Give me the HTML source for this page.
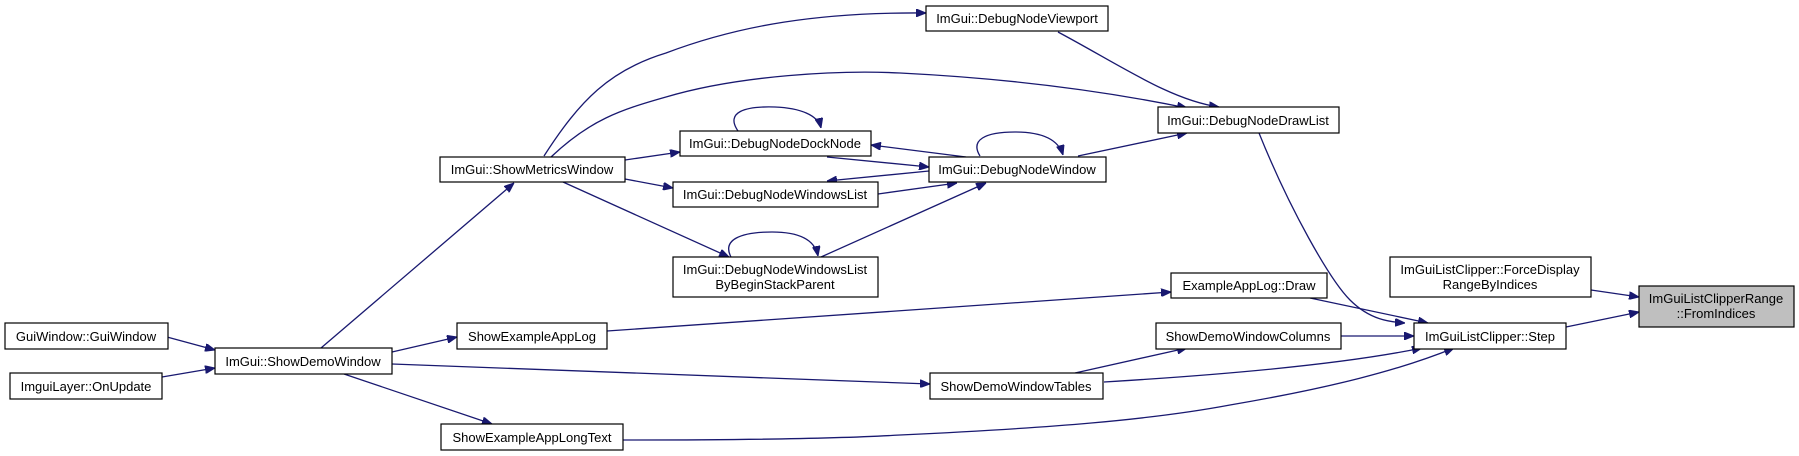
<!DOCTYPE html>
<html><head><meta charset="utf-8"><style>
html,body{margin:0;padding:0;background:#fff;}
svg{display:block;}
text{font-family:"Liberation Sans",Arial,sans-serif;font-size:13px;fill:#000;text-anchor:middle;}
.e{fill:none;stroke:#191970;stroke-width:1.3;}
.n{fill:#fff;stroke:#000;stroke-width:1.2;}
</style></head><body>
<svg width="1799" height="456" viewBox="0 0 1799 456" xmlns="http://www.w3.org/2000/svg">
<defs>
<marker id="a" viewBox="0 0 10 8" refX="10" refY="4" markerWidth="10" markerHeight="8" markerUnits="userSpaceOnUse" orient="auto">
<path d="M0,0 L10,4 L0,8 z" fill="#191970" stroke="#191970"/>
</marker>
</defs>
<g class="e" marker-end="url(#a)">
<path d="M167,337 L215,350"/>
<path d="M162,377 L215,368"/>
<path d="M321,348 L514,183"/>
<path d="M392,352 L457,337"/>
<path d="M392,364 C600,372 800,380 930,384"/>
<path d="M344,374 L492,424"/>
<path d="M544,156 C580,100 610,70 666,53 C740,25 820,12 926,13"/>
<path d="M551,157 C590,120 620,110 666,97 C740,75 840,70 900,73 C1000,78 1100,90 1187,108"/>
<path d="M625,160 L680,152"/>
<path d="M625,179 L673,188"/>
<path d="M563,182 L729,257"/>
<path d="M738,131 C725,112 745,106 775,107 C800,108 818,115 821,128"/>
<path d="M966,157 L871,145"/>
<path d="M827,157 L929,167"/>
<path d="M929,171 L827,181"/>
<path d="M878,194 L957,183"/>
<path d="M821,257 L986,183"/>
<path d="M731,257 C722,240 740,232 772,232 C800,232 815,240 818,256"/>
<path d="M980,156 C970,140 985,132 1015,132 C1040,132 1058,138 1063,155"/>
<path d="M1078,156 L1187,133"/>
<path d="M1058,32 C1120,65 1170,100 1219,107"/>
<path d="M1259,133 C1290,210 1330,280 1350,300 C1370,320 1390,322 1405,323"/>
<path d="M1310,298 L1428,323"/>
<path d="M607,331 L1171,292"/>
<path d="M1341,336 L1414,336"/>
<path d="M1104,382 C1220,375 1340,365 1422,348"/>
<path d="M1075,373 L1187,348"/>
<path d="M623,440 C750,440 850,438 900,435 C1050,428 1150,420 1230,405 C1330,388 1400,370 1454,348"/>
<path d="M1591,290 L1639,297"/>
<path d="M1566,327 L1639,312"/>
</g>
<g>
<rect class="n" x="5" y="323" width="163" height="26"/><text x="86" y="341">GuiWindow::GuiWindow</text>
<rect class="n" x="10" y="373" width="152" height="26"/><text x="86" y="391">ImguiLayer::OnUpdate</text>
<rect class="n" x="215" y="348" width="177" height="26"/><text x="303" y="366">ImGui::ShowDemoWindow</text>
<rect class="n" x="440" y="157" width="185" height="25"/><text x="532" y="174">ImGui::ShowMetricsWindow</text>
<rect class="n" x="680" y="131" width="191" height="25"/><text x="775" y="148">ImGui::DebugNodeDockNode</text>
<rect class="n" x="673" y="182" width="205" height="25"/><text x="775" y="199">ImGui::DebugNodeWindowsList</text>
<rect class="n" x="673" y="257" width="205" height="40"/><text x="775" y="274">ImGui::DebugNodeWindowsList</text><text x="775" y="289">ByBeginStackParent</text>
<rect class="n" x="457" y="323" width="150" height="26"/><text x="532" y="341">ShowExampleAppLog</text>
<rect class="n" x="441" y="424" width="182" height="26"/><text x="532" y="442">ShowExampleAppLongText</text>
<rect class="n" x="926" y="6" width="182" height="25"/><text x="1017" y="23">ImGui::DebugNodeViewport</text>
<rect class="n" x="1158" y="107" width="181" height="26"/><text x="1248" y="125">ImGui::DebugNodeDrawList</text>
<rect class="n" x="929" y="157" width="177" height="25"/><text x="1017" y="174">ImGui::DebugNodeWindow</text>
<rect class="n" x="1171" y="273" width="156" height="25"/><text x="1249" y="290">ExampleAppLog::Draw</text>
<rect class="n" x="1156" y="323" width="185" height="26"/><text x="1248" y="341">ShowDemoWindowColumns</text>
<rect class="n" x="930" y="373" width="173" height="26"/><text x="1016" y="391">ShowDemoWindowTables</text>
<rect class="n" x="1390" y="257" width="201" height="40"/><text x="1490" y="274">ImGuiListClipper::ForceDisplay</text><text x="1490" y="289">RangeByIndices</text>
<rect class="n" x="1414" y="323" width="152" height="26"/><text x="1490" y="341">ImGuiListClipper::Step</text>
<rect x="1639" y="286" width="155" height="41" fill="#bfbfbf" stroke="#000" stroke-width="1.2"/><text x="1716" y="303">ImGuiListClipperRange</text><text x="1716" y="318">::FromIndices</text>
</g>
</svg>
</body></html>
